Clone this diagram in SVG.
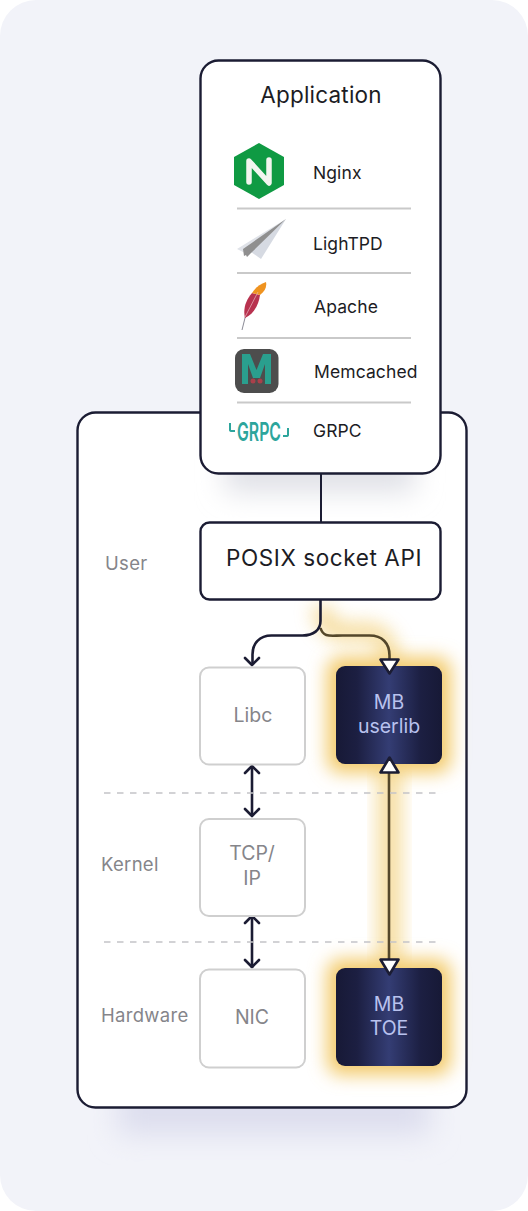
<svg xmlns="http://www.w3.org/2000/svg" width="528" height="1211" viewBox="0 0 528 1211">
<style>
text{font-family:Inter,"Liberation Sans",sans-serif;text-anchor:middle}
.box{fill:#fff;stroke:#1b1c33;stroke-width:2.4}
.gray{fill:#fff;stroke:#cfcfcf;stroke-width:2}
.glabel{font-size:19.500px;fill:#85858a}
.side{font-size:18.500px;fill:#85858a;text-anchor:start;letter-spacing:.3px}
.item{font-size:17.500px;fill:#1c1c24;text-anchor:start;letter-spacing:.1px}
.mb{font-size:19.500px;fill:#b9c2ee}
.sep{stroke:#c9c9c9;stroke-width:2;fill:none}
.dash{stroke:#c4c4c8;stroke-width:1.6;stroke-dasharray:6.500 6.500;fill:none}
.dark{fill:none;stroke:#1b1c33;stroke-width:2.600}
.gold{fill:none;stroke:#54472a;stroke-width:2.600}
.head{fill:none;stroke:#1b1c33;stroke-width:2.600;stroke-linecap:round;stroke-linejoin:round}
.tri{fill:#fff;stroke:#1b1c33;stroke-width:2.600;stroke-linejoin:round}
</style>
<defs>
<linearGradient id="mbg" x1="0" x2="1" y1="0" y2="0">
<stop offset="0" stop-color="#171936"/><stop offset=".2" stop-color="#1c1f42"/><stop offset=".5" stop-color="#343d74"/><stop offset=".8" stop-color="#1c1f42"/><stop offset="1" stop-color="#171936"/>
</linearGradient>
<filter id="glow" x="-40%" y="-40%" width="180%" height="180%"><feGaussianBlur stdDeviation="9"/></filter>
<filter id="soft" x="-30%" y="-60%" width="160%" height="220%"><feGaussianBlur stdDeviation="14"/></filter>
</defs>
<rect width="528" height="1211" fill="#fff"/>
<rect width="528" height="1211" rx="36" fill="#f2f3f9"/>
<rect x="118" y="1085" width="312" height="50" fill="#dddeee" filter="url(#soft)"/>
<g id="main-panel"><rect x="77.500" y="412.500" width="389" height="695" rx="18" class="box"/></g>
<rect x="225" y="450" width="190" height="42" fill="#dfe0e6" filter="url(#soft)"/>
<g id="glows">
<path d="M321 606 q3 26 25 26 h20 q24 0 24 34" fill="none" stroke="#f3d07c" stroke-width="20" filter="url(#glow)" opacity=".7"/>
<rect x="327" y="657" width="124" height="116" rx="14" fill="#f3ca6a" filter="url(#glow)"/>
<rect x="377" y="760" width="25" height="210" fill="#f3d07c" filter="url(#glow)" opacity=".7"/>
<rect x="327" y="959" width="124" height="116" rx="14" fill="#f3ca6a" filter="url(#glow)"/>
</g>
<g id="connectors">
<path class="dark" style="stroke-width:2" d="M321 473V522"/>
<path class="gold" d="M320.500 628c3 10 10 7.500 22 7.500h27c13 0 20 8 20 20v6"/>
<path class="dark" d="M320.500 599v22c0 9-7 14.500-18 14.500h-31c-12 0-19 8-19 19v10"/>
<path class="head" d="M245 658l7 7 7-7"/>
<path class="dark" d="M252 766V816"/>
<path class="head" d="M245 773l7-7 7 7M245 809l7 7 7-7"/>
<path class="dark" d="M252 916V968"/>
<path class="head" d="M245 923l7-7 7 7M245 960l7 7 7-7"/>
<path class="gold" d="M389 765V970"/>
<path class="dash" d="M104 793H440M104 942H440"/>
</g>
<g id="app">
<rect x="200.500" y="60.500" width="240" height="413" rx="18" class="box"/>
<text x="321" y="103" font-size="22.500" fill="#1c1c24" letter-spacing=".2">Application</text>
<path class="sep" d="M237 208.500H411M237 273H411M237 338H411M237 402.500H411"/>
</g>
<g id="nginx">
<path d="M259 143l25 14v28l-25 14-25-14v-28z" fill="#0f9a43"/>
<path d="M249 182v-21l20 22v-23" fill="none" stroke="#f2f5ef" stroke-width="5.500" stroke-linecap="round" stroke-linejoin="round"/>
<text class="item" x="313" y="179">Nginx</text>
</g>
<g id="lighttpd">
<path d="M286 219l-49 30 10 5z" fill="#dfe2e8"/>
<path d="M286 219l-35 33 10 7z" fill="#d6dae2"/>
<path d="M286 219l-43 30 1 7 2-1 1 2 4-4z" fill="#8f8f8f"/>
<text class="item" x="313" y="250">LighTPD</text>
</g>
<g id="apache">
<path d="M242 330l5-20" stroke="#8b8b96" stroke-width="1" fill="none"/>
<path d="M245 318c-2-8 0-17 7-25l8 2c-1 9-6 19-15 23z" fill="#b8324f"/>
<path d="M252 293c3-5 8-9 14-11 1 5-1 9-6 13z" fill="#ef9320"/>
<path d="M245 317l13-25" stroke="#e6b8c0" stroke-width=".7" fill="none"/>
<text class="item" x="314" y="313">Apache</text>
</g>
<g id="memcached">
<rect x="235" y="349" width="43.500" height="44" rx="9" fill="#4d4d4d"/>
<path d="M242 384v-30h8l6.500 16 6.500-16h8v30h-6v-20l-5 14h-7l-5-14v20z" fill="#2a9f8e"/>
<circle cx="253" cy="381" r="2.500" fill="#a9404a"/><circle cx="260" cy="381" r="2.500" fill="#a9404a"/>
<text class="item" x="314" y="378">Memcached</text>
</g>
<g id="grpc">
<text x="259" y="441" font-size="26" font-weight="600" fill="#2da59c" textLength="44" lengthAdjust="spacingAndGlyphs">GRPC</text>
<path d="M230 423v7q0 1 2 1h3M288 428v7q0 1-2 1h-3" fill="none" stroke="#2da59c" stroke-width="2"/>
<text class="item" x="313" y="437">GRPC</text>
</g>
<g id="posix">
<rect x="200.500" y="522.500" width="240" height="77" rx="9" class="box"/>
<text x="324" y="566" font-size="22.500" fill="#1c1c24" letter-spacing=".6">POSIX socket API</text>
</g>
<g id="libc"><rect x="200" y="667.500" width="105" height="97" rx="9" class="gray"/><text class="glabel" x="253" y="722">Libc</text></g>
<g id="tcp"><rect x="200" y="819" width="105" height="97" rx="9" class="gray"/><text class="glabel" x="252" y="860">TCP/</text><text class="glabel" x="252" y="885">IP</text></g>
<g id="nic"><rect x="200" y="969.500" width="105" height="98" rx="9" class="gray"/><text class="glabel" x="252" y="1024">NIC</text></g>
<g id="userlib"><rect x="336" y="666" width="106" height="98" rx="9" fill="url(#mbg)"/><text class="mb" x="389" y="709">MB</text><text class="mb" x="389" y="733">userlib</text></g>
<g id="toe"><rect x="336" y="968" width="106" height="98" rx="9" fill="url(#mbg)"/><text class="mb" x="389" y="1011">MB</text><text class="mb" x="389" y="1035">TOE</text></g>
<g id="arrowheads">
<path class="tri" d="M380.500 659.500h18l-9 14z"/>
<path class="tri" d="M380.500 772.500h18l-9-15z"/>
<path class="tri" d="M380.500 959.500h18l-9 15z"/>
</g>
<g id="layers">
<text class="side" x="105" y="570">User</text>
<text class="side" x="101" y="871">Kernel</text>
<text class="side" x="101" y="1022">Hardware</text>
</g>
</svg>
